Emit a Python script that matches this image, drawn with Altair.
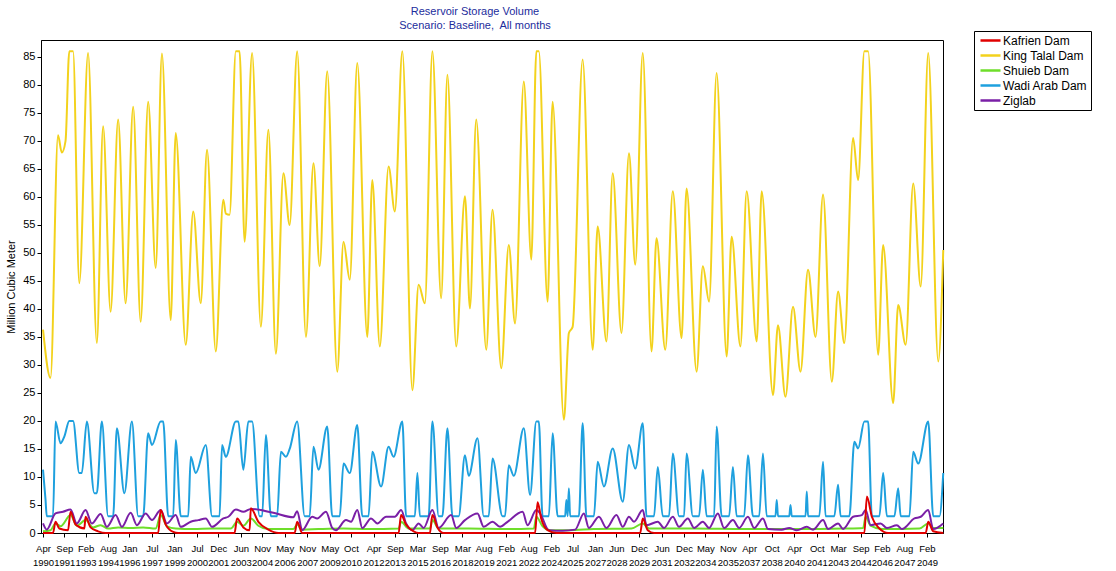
import json
import altair as alt
import pandas as pd

# ---- data (month index m = months since Apr 1990, value in MCM) ----
series_names = ["Kafrien Dam", "King Talal Dam", "Shuieb Dam", "Wadi Arab Dam", "Ziglab"]
series_colors = ["#e00000", "#f3d21c", "#6ede2a", "#1ea0de", "#7a1fa6"]

king_talal = [(0, 36.3), (6, 27.7), (12, 71), (15, 67.9), (18, 70), (21, 86), (24, 86), (29, 44.6), (36, 85.7),
              (43, 33.9), (48, 72.6), (54, 39.5), (60, 73.8), (66, 41), (72, 76.1), (78, 37.7), (84, 77),
              (90, 47.3), (95, 85.6), (102, 38), (106, 71.4), (114, 33.6), (120, 57.4), (126, 41), (131, 68.4),
              (138, 32.4), (144, 59.5), (146, 57), (149, 56.8), (154, 86), (157, 86), (161, 52), (167, 85.7),
              (174, 36.8), (180, 72), (186, 32), (192, 64.2), (197, 55), (203, 86), (210, 35), (216, 66),
              (221, 47.6), (227, 82.4), (235, 28.8), (240, 52), (245, 45.2), (251, 83.9), (259, 35), (263, 63),
              (269, 33.3), (276, 65.4), (281, 57.4), (287, 86), (295, 25.5), (300, 44.3), (305, 41), (311, 86),
              (318, 41.9), (323, 81.8), (330, 33.3), (337, 60.1), (341, 40.1), (346, 73.8), (354, 32.7),
              (359, 57.7), (366, 29.4), (372, 51.4), (377, 37.4), (384, 80.6), (390, 48.8), (394, 86), (396, 86),
              (403, 41.3), (407, 77), (416, 20.2), (420, 35.7), (423, 36.8), (431, 84.5), (439, 32.7), (443, 54.7),
              (450, 34.2), (455, 64.2), (462, 35.7), (468, 67.8), (473, 47.9), (479, 85.7), (486, 32.4),
              (490, 52.6), (497, 32.7), (503, 61), (510, 34.8), (514, 61.5), (522, 28.8), (527, 47.6), (532, 41.3),
              (538, 82.1), (546, 31.5), (550, 52.9), (557, 33.3), (562, 61), (570, 34.2), (574, 61), (583, 24.6),
              (587, 37.1), (593, 24.3), (599, 40.4), (605, 28.8), (611, 47), (617, 35), (623, 60.4), (630, 27),
              (635, 43.1), (640, 33.9), (647, 70.5), (651, 63), (656, 86), (659, 86), (667, 31.8), (671, 51.4),
              (679, 23.2), (683, 40.7), (689, 33.6), (695, 62.4), (701, 44), (707, 85.7), (715, 30.6), (719, 50.5)]

wadi_arab = [(0, 11.3), (2, 6), (3, 3), (8, 3), (10, 19.9), (14, 16), (17, 17.2), (21, 20), (24, 20), (29, 10.7),
             (31, 10.7), (35, 19.9), (41, 7.1), (43, 7.1), (47, 19.9), (52, 3), (56, 3), (59, 18.7), (65, 7.1),
             (71, 19.9), (76, 3), (80, 3), (84, 17.8), (87, 15.7), (94, 19.9), (96, 19.9), (100, 3), (104, 3),
             (106, 16.6), (110, 3), (116, 3), (118, 13.6), (122, 10.7), (130, 15.7), (135, 3), (141, 3),
             (143, 15.7), (146, 13.6), (154, 19.9), (156, 19.9), (160, 11.3), (164, 19.9), (167, 19.9), (173, 3),
             (175, 3), (178, 17.5), (182, 3), (187, 3), (190, 14.5), (194, 13.6), (197, 15), (203, 19.9),
             (209, 3), (213, 3), (216, 15.4), (220, 11.3), (227, 19), (231, 3), (237, 3), (240, 12.4),
             (245, 10.7), (251, 19.3), (255, 3), (260, 3), (263, 14.5), (270, 8.3), (276, 15.4), (280, 13.6),
             (287, 19.9), (290, 3), (297, 3), (299, 10.7), (301, 3), (308, 3), (311, 19.9), (316, 3), (319, 3),
             (323, 18.7), (327, 3), (332, 3), (337, 13.9), (340, 10.2), (347, 16.9), (352, 3), (356, 3),
             (359, 13.3), (367, 3), (369, 3), (372, 12.1), (376, 10.2), (384, 18.7), (389, 6.8), (394, 19.9),
             (396, 19.9), (399, 3), (404, 3), (407, 17.8), (411, 3), (417, 3), (418, 5.9), (419, 3), (420, 8),
             (421, 3), (428, 3), (431, 19.6), (434, 3), (440, 3), (443, 12.7), (448, 8.3), (455, 15.1),
             (463, 5.6), (468, 15.7), (473, 11.5), (479, 19.6), (482, 3), (488, 3), (491, 11.8), (495, 3),
             (500, 3), (503, 14.2), (508, 3), (512, 3), (514, 14.2), (519, 3), (524, 3), (527, 11.3), (530, 3),
             (536, 3), (538, 19), (542, 3), (548, 3), (551, 11.8), (554, 3), (560, 3), (563, 13.9), (567, 3),
             (572, 3), (575, 14.2), (578, 3), (585, 3), (586, 5.9), (587, 3), (596, 3), (597, 5), (598, 3),
             (609, 3), (610, 7.4), (611, 3), (620, 3), (623, 12.7), (625, 3), (632, 3), (635, 8.6), (637, 3),
             (644, 3), (648, 16.3), (651, 15.1), (656, 19.9), (659, 19.9), (662, 3), (668, 3), (671, 10.7),
             (674, 3), (680, 3), (683, 8), (685, 3), (692, 3), (695, 14.5), (699, 12.4), (707, 19.9), (711, 3),
             (716, 3), (719, 10.7)]

ziglab = [(0, 1.7), (3, 0.6), (10, 3.5), (16, 3.8), (22, 4.2), (27, 1.7), (34, 4.1), (39, 1.7), (46, 3.4),
          (51, 1.1), (58, 3.2), (63, 1.1), (70, 3.6), (75, 1.4), (82, 3.5), (87, 2.3), (94, 4.1), (99, 1.7),
          (106, 3.2), (110, 1.1), (118, 2.0), (124, 2.3), (130, 2.6), (135, 1.1), (144, 2.6), (148, 2.9),
          (154, 4.2), (160, 3.8), (166, 4.3), (184, 3.6), (200, 2.8), (203, 3.9), (207, 0.5), (215, 2.9),
          (219, 2.6), (226, 3.8), (231, 0.9), (234, 0.5), (242, 2.3), (246, 2.0), (251, 4.1), (255, 0.9),
          (262, 2.6), (267, 1.7), (274, 2.9), (281, 2.9), (286, 4.1), (290, 1.7), (295, 0.5), (300, 1.7),
          (304, 0.9), (311, 4.1), (316, 0.9), (326, 3.2), (330, 0.9), (337, 2.3), (347, 3.5), (352, 1.1),
          (359, 2.0), (365, 1.1), (371, 2.0), (383, 3.8), (387, 1.4), (394, 4.1), (397, 3.5), (404, 0.5),
          (415, 0.4), (425, 0.6), (432, 3.5), (436, 0.9), (444, 2.9), (450, 0.9), (458, 3.2), (463, 1.1),
          (468, 2.9), (472, 2.0), (479, 4.1), (482, 1.4), (491, 2.0), (496, 0.9), (503, 2.9), (508, 1.1),
          (515, 2.6), (520, 0.9), (527, 2.0), (532, 0.9), (539, 3.5), (544, 0.9), (551, 2.3), (556, 0.9),
          (563, 2.9), (568, 0.9), (575, 2.6), (579, 0.7), (590, 0.6), (596, 0.9), (602, 0.5), (610, 1.1),
          (615, 0.6), (623, 2.3), (627, 0.7), (635, 1.7), (639, 0.7), (647, 2.9), (654, 3.2), (657, 4.1),
          (661, 1.4), (669, 1.7), (674, 0.9), (682, 1.4), (686, 0.7), (696, 2.6), (701, 2.9), (707, 4.1),
          (711, 0.7), (719, 1.7)]

kafrien = [(0, 0), (8, 0), (10, 2.0), (13, 0.8), (20, 0.5), (22, 3.8), (26, 1.5), (33, 0.8), (34, 2.9),
           (38, 1.0), (44, 0.3), (50, 0), (92, 0), (94, 4.1), (98, 1.5), (104, 0.2), (108, 0), (153, 0),
           (155, 2.6), (160, 1.0), (165, 0.5), (166, 4.4), (172, 2.0), (180, 0.6), (188, 0), (201, 0),
           (203, 2.0), (207, 0), (284, 0), (286, 3.2), (290, 1.5), (296, 0.3), (300, 0), (309, 0), (311, 3.2),
           (315, 1.0), (320, 0), (393, 0), (395, 5.5), (398, 2.5), (403, 0.5), (410, 0), (477, 0), (479, 2.6),
           (483, 0.5), (488, 0), (656, 0), (658, 6.5), (662, 2.9), (668, 0.8), (675, 0), (705, 0), (707, 2.0),
           (711, 0.3), (719, 0)]

shuieb = [(0, 0.3), (6, 0.5), (10, 1.7), (14, 1.2), (22, 3.2), (27, 1.3), (34, 2.3), (40, 1.0), (46, 1.4),
          (52, 0.8), (60, 1.0), (70, 0.9), (80, 1.0), (90, 0.8), (94, 3.2), (99, 1.2), (106, 0.8), (120, 0.7),
          (135, 0.8), (150, 0.8), (155, 2.0), (160, 1.3), (166, 2.6), (172, 1.3), (180, 0.7), (200, 0.7),
          (203, 1.5), (207, 0.6), (220, 0.7), (240, 0.8), (260, 0.7), (284, 0.8), (286, 2.0), (292, 0.8),
          (309, 0.8), (311, 2.3), (316, 0.8), (340, 0.8), (370, 0.7), (392, 0.8), (394, 2.9), (399, 1.2),
          (405, 0.5), (420, 0.5), (440, 0.7), (470, 0.8), (479, 1.7), (484, 0.8), (520, 0.8), (560, 0.7),
          (600, 0.7), (640, 0.8), (655, 0.9), (657, 2.9), (661, 1.3), (670, 0.7), (700, 0.8), (707, 1.7),
          (711, 0.9), (719, 0.9)]

tick_m = [0, 17, 34, 52, 69, 87, 105, 123, 140, 158, 175, 193, 211, 229, 246, 264, 281, 299, 317, 335, 352,
          370, 388, 406, 423, 441, 458, 476, 494, 512, 529, 547, 564, 582, 600, 618, 635, 653, 670, 688, 706]
tick_labels = ["Apr 1990", "Sep 1991", "Feb 1993", "Aug 1994", "Jan 1996", "Jul 1997", "Jan 1999", "Jul 2000",
               "Dec 2001", "Jun 2003", "Nov 2004", "May 2006", "Nov 2007", "May 2009", "Oct 2010", "Apr 2012",
               "Sep 2013", "Mar 2015", "Sep 2016", "Mar 2018", "Aug 2019", "Feb 2021", "Aug 2022", "Feb 2024",
               "Jul 2025", "Jan 2027", "Jun 2028", "Dec 2029", "Jun 2031", "Dec 2032", "May 2034", "Nov 2035",
               "Apr 2037", "Oct 2038", "Apr 2040", "Oct 2041", "Mar 2043", "Sep 2044", "Feb 2046", "Aug 2047",
               "Feb 2049"]
y_ticks = [0, 5, 10, 15, 20, 25, 30, 35, 40, 45, 50, 55, 60, 65, 70, 75, 80, 85]

# ---- build table (draw order: yellow, blue, green, purple, red) ----
rows = []
for name, pts in [("King Talal Dam", king_talal), ("Wadi Arab Dam", wadi_arab), ("Shuieb Dam", shuieb),
                  ("Ziglab", ziglab), ("Kafrien Dam", kafrien)]:
    for m, v in pts:
        rows.append({"m": m, "v": v, "series": name})
df = pd.DataFrame(rows)

label_expr = ("split(" + json.dumps(tick_labels) + "[indexof(" + json.dumps(tick_m) +
              ", datum.value)], ' ')")

FONT = "Liberation Sans"

chart = alt.Chart(df).mark_line(strokeWidth=2, interpolate="monotone").encode(
    x=alt.X("m:Q",
            scale=alt.Scale(domain=[-1.6, 718.8], nice=False, zero=False),
            axis=alt.Axis(values=tick_m, labelExpr=label_expr, title=None, grid=False,
                          labelFontSize=9.5, labelFont=FONT, labelColor="black", tickColor="black",
                          domainColor="black", tickSize=4, labelOverlap=False, labelFlush=False,
                          labelPadding=6, labelLineHeight=14)),
    y=alt.Y("v:Q",
            scale=alt.Scale(domain=[0, 88], nice=False),
            axis=alt.Axis(values=y_ticks, title="Million Cubic Meter", grid=False,
                          labelFontSize=11, labelFont=FONT, labelColor="black", tickColor="black",
                          domainColor="black", tickSize=4, labelPadding=2,
                          titleFontSize=11, titleFont=FONT, titleFontWeight="normal",
                          titleColor="black", titlePadding=6)),
    color=alt.Color("series:N",
                    scale=alt.Scale(domain=series_names, range=series_colors),
                    legend=alt.Legend(orient="none", legendX=933, legendY=-9, title=None,
                                      symbolType="M-2,0H2", symbolStrokeWidth=2.5, symbolSize=100,
                                      symbolOffset=7,
                                      labelExpr="datum.label + '\u00a0\u00a0\u00a0\u00a0\u00a0\u00a0\u00a0\u00a0'",
                                      labelFontSize=12, labelFont=FONT, labelColor="black",
                                      strokeColor="black", fillColor="white", padding=3,
                                      rowPadding=2, labelOffset=6)),
    detail="series:N",
).properties(
    width=902, height=493,
    title=alt.TitleParams(text=["Reservoir Storage Volume", "Scenario: Baseline,\u00a0 All months"],
                          fontSize=11, font=FONT, fontWeight="normal", color="#1c2c9c",
                          anchor="middle", offset=0, lineHeight=14, dx=-17),
    padding={"left": 5, "top": 5, "right": 0, "bottom": 0},
).configure_view(stroke="black", strokeWidth=1)

chart.save("out.html", embed_options={"renderer": "svg", "actions": False})
